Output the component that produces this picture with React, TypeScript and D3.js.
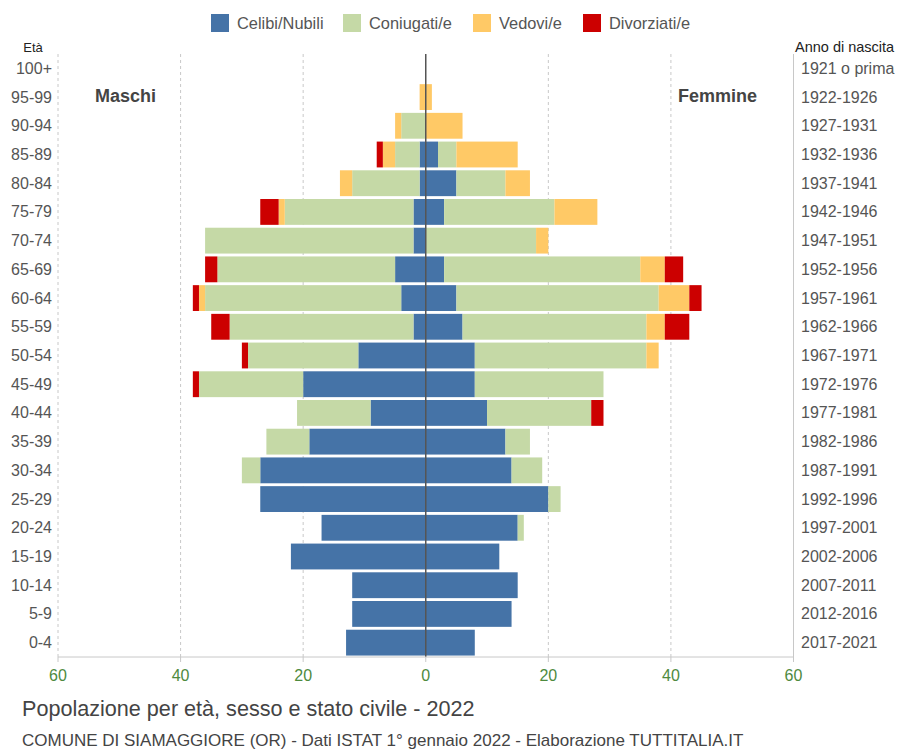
import React from "react";
import * as d3 from "d3";

const ages = ["100+","95-99","90-94","85-89","80-84","75-79","70-74","65-69","60-64","55-59","50-54","45-49","40-44","35-39","30-34","25-29","20-24","15-19","10-14","5-9","0-4"];
const years = ["1921 o prima","1922-1926","1927-1931","1932-1936","1937-1941","1942-1946","1947-1951","1952-1956","1957-1961","1962-1966","1967-1971","1972-1976","1977-1981","1982-1986","1987-1991","1992-1996","1997-2001","2002-2006","2007-2011","2012-2016","2017-2021"];

const maleCelibi = [0,0,0,1,1,2,2,5,4,2,11,20,9,19,27,27,17,22,12,12,13];
const maleConiugati = [0,0,4,4,11,21,34,29,32,30,18,17,12,7,3,0,0,0,0,0,0];
const maleVedovi = [0,1,1,2,2,1,0,0,1,0,0,0,0,0,0,0,0,0,0,0,0];
const maleDivorziati = [0,0,0,1,0,3,0,2,1,3,1,1,0,0,0,0,0,0,0,0,0];

const femNubili = [0,0,0,2,5,3,0,3,5,6,8,8,10,13,14,20,15,12,15,14,8];
const femConiugate = [0,0,0,3,8,18,18,32,33,30,28,21,17,4,5,2,1,0,0,0,0];
const femVedove = [0,1,6,10,4,7,2,4,5,3,2,0,0,0,0,0,0,0,0,0,0];
const femDivorziate = [0,0,0,0,0,0,0,3,2,4,0,0,2,0,0,0,0,0,0,0,0];

const seriesNames = ["Celibi/Nubili","Coniugati/e","Vedovi/e","Divorziati/e"];
const colors = ["#4573a7","#c5d9a6","#ffc966","#cc0000"];
const ticks = [-60,-40,-20,0,20,40,60];

const FONT = "'Liberation Sans', Arial, Helvetica, sans-serif";

export default function App() {
  const W = 901, H = 749;
  const x = d3.scaleLinear().domain([-60, 60]).range([58, 793.5]);
  const y = d3.scaleBand<string>().domain(ages).range([54, 657]).paddingInner(0.1).paddingOuter(0.05);
  const maleSeries = [maleCelibi, maleConiugati, maleVedovi, maleDivorziati];
  const femSeries = [femNubili, femConiugate, femVedove, femDivorziate];

  const bars: React.ReactNode[] = [];
  ages.forEach((a, i) => {
    let cum = 0;
    maleSeries.forEach((s, k) => {
      const v = s[i];
      if (v > 0) {
        const x0 = x(-(cum + v)), x1 = x(-cum);
        bars.push(<rect key={`m${i}-${k}`} x={x0} y={y(a)} width={x1 - x0} height={y.bandwidth()} fill={colors[k]} />);
      }
      cum += v;
    });
    cum = 0;
    femSeries.forEach((s, k) => {
      const v = s[i];
      if (v > 0) {
        const x0 = x(cum), x1 = x(cum + v);
        bars.push(<rect key={`f${i}-${k}`} x={x0} y={y(a)} width={x1 - x0} height={y.bandwidth()} fill={colors[k]} />);
      }
      cum += v;
    });
  });

  const legendX = [211, 343, 473, 583];

  return (
    <svg width={W} height={H} style={{ position: "absolute", left: 0, top: 0, background: "#fff" }} fontFamily={FONT}>
      <rect x={0} y={0} width={W} height={H} fill="#fff" />
      {seriesNames.map((n, k) => (
        <g key={n}>
          <rect x={legendX[k]} y={14} width={18} height={18} fill={colors[k]} />
          <text x={legendX[k] + 26} y={28.5} fontSize={16.4} fill="#555">{n}</text>
        </g>
      ))}
      {ticks.map((t) => t !== 0 && (
        <line key={t} x1={x(t)} x2={x(t)} y1={54} y2={657} stroke="#c8c8c8" strokeDasharray="3,3" strokeWidth={1} />
      ))}
      <line x1={x(60)} x2={x(60)} y1={54} y2={657} stroke="#c8c8c8" strokeWidth={1} />
      {bars}
      <line x1={x(0)} x2={x(0)} y1={54} y2={657} stroke="#555" strokeWidth={1.5} />
      <line x1={x(-60)} x2={x(60)} y1={657} y2={657} stroke="#c8c8c8" strokeWidth={1} />
      {ticks.map((t) => (
        <g key={`t${t}`}>
          <line x1={x(t)} x2={x(t)} y1={657} y2={662} stroke="#c8c8c8" />
          <text x={x(t)} y={681} fontSize={16} fill="#4e8a3e" textAnchor="middle">{Math.abs(t)}</text>
        </g>
      ))}
      <text x={33} y={52} fontSize={13} fill="#222" textAnchor="middle">Età</text>
      {ages.map((a) => (
        <text key={a} x={52} y={(y(a) as number) + y.bandwidth() / 2 + 5.5} fontSize={16} fill="#555" textAnchor="end">{a}</text>
      ))}
      <text x={795} y={52} fontSize={14.5} fill="#222">Anno di nascita</text>
      {years.map((yr, i) => (
        <text key={yr} x={801} y={(y(ages[i]) as number) + y.bandwidth() / 2 + 5.5} fontSize={16} fill="#555">{yr}</text>
      ))}
      <text x={95} y={102} fontSize={18} fontWeight="bold" fill="#444">Maschi</text>
      <text x={757} y={102} fontSize={18} fontWeight="bold" fill="#444" textAnchor="end">Femmine</text>
      <text x={22} y={716} fontSize={21.6} fill="#444">Popolazione per età, sesso e stato civile - 2022</text>
      <text x={22} y={746} fontSize={17} fill="#444">COMUNE DI SIAMAGGIORE (OR) - Dati ISTAT 1° gennaio 2022 - Elaborazione TUTTITALIA.IT</text>
    </svg>
  );
}
